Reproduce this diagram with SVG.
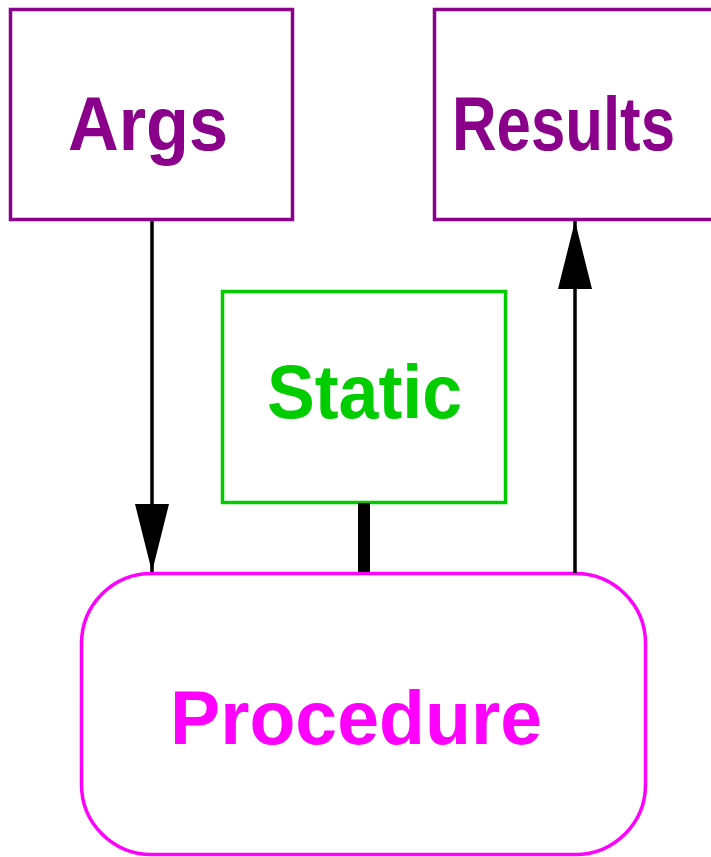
<svg xmlns="http://www.w3.org/2000/svg" width="711" height="857" viewBox="0 0 711 857">
<style>
.lbl{font-family:"Liberation Sans",Arial,sans-serif;font-weight:bold;font-size:76px}
.box{fill:#fff;stroke-width:3.5}
.pur{stroke:#8b008b}
.conn{stroke:#000;fill:none}
</style>
<defs>
<marker id="ah" viewBox="0 0 68 34" refX="68" refY="17" markerWidth="68" markerHeight="34" markerUnits="userSpaceOnUse" orient="auto">
<path d="M0,0 L68,17 L0,34 Z" fill="#000"/>
</marker>
</defs>
<rect width="711" height="857" fill="#fff"/>
<g id="args">
<rect class="box pur" x="10.5" y="9.5" width="282" height="210"/>
<text class="lbl" x="68" y="150" fill="#8b008b" textLength="160" lengthAdjust="spacingAndGlyphs">Args</text>
</g>
<g id="results">
<rect class="box pur" x="434.5" y="9.5" width="290" height="210"/>
<text class="lbl" x="452" y="150" fill="#8b008b" textLength="223" lengthAdjust="spacingAndGlyphs">Results</text>
</g>
<g id="static">
<rect class="box" stroke="#00cc00" x="222.5" y="291.5" width="283" height="211"/>
<text class="lbl" x="267" y="418" fill="#00cc00" textLength="195" lengthAdjust="spacingAndGlyphs">Static</text>
</g>
<g id="procedure">
<rect class="box" stroke="#ff00ff" x="81.5" y="573.5" width="564" height="281" rx="70" ry="70"/>
<text class="lbl" x="170" y="744" fill="#ff00ff" textLength="372" lengthAdjust="spacingAndGlyphs">Procedure</text>
</g>
<g id="connectors">
<line class="conn" x1="152" y1="221" x2="152" y2="572" stroke-width="3.5" marker-end="url(#ah)"/>
<line class="conn" x1="575" y1="573" x2="575" y2="221" stroke-width="3.5" marker-end="url(#ah)"/>
<line class="conn" x1="364" y1="503" x2="364" y2="572" stroke-width="12"/>
</g>
</svg>
